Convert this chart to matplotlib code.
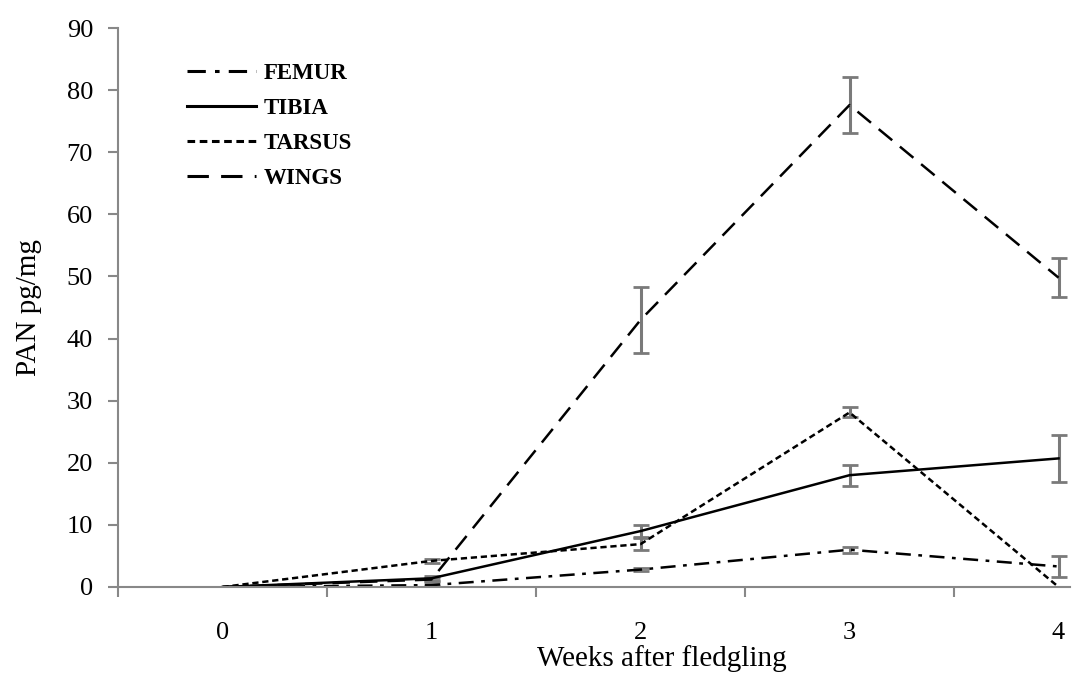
import numpy as np
import matplotlib.pyplot as plt
from matplotlib import transforms
from matplotlib.lines import Line2D
plt.rcParams.update({'font.family': 'Liberation Serif', 'font.size': 19})

# datos
weeks = [0, 1, 2, 3, 4]
femur = [0, 0.3, 2.8, 6.0, 3.3]
femur_err = [0, 0.2, 0.3, 0.5, 1.7]
tibia = [0, 1.4, 9.0, 18.0, 20.7]
tibia_err = [0, 0.4, 1.0, 1.7, 3.8]
tarsus = [0, 4.2, 6.9, 28.1, 0]
tarsus_err = [0, 0.3, 1.0, 0.8, 0]
wings = [0, 1.2, 43.0, 77.6, 49.8]
wings_err = [0, 0.3, 5.3, 4.5, 3.1]

series = [
    ('FEMUR', femur, femur_err, (0, (6, 3, 1.5, 3))),
    ('TIBIA', tibia, tibia_err, '-'),
    ('TARSUS', tarsus, tarsus_err, (0, (2.5, 1.5))),
    ('WINGS', wings, wings_err, (0, (7, 4))),
]

fig = plt.figure(figsize=(10.79, 6.85), dpi=100)
ax = fig.add_axes([0.1094, 0.1431, 0.8823, 0.816])

handles = []
for name, y, err, ls in series:
    eb = ax.errorbar(weeks, y, yerr=err, color='black', linestyle=ls, linewidth=1.8,
                     ecolor='#7a7a7a', elinewidth=2.2, capsize=5.5, capthick=2)
    for cap in eb[1]:
        cap.set_color('black')
    handles.append(Line2D([], [], color='black', linestyle=ls, linewidth=2.2, label=name))

ax.set_xlim(-0.5, 4.055)
ax.set_ylim(0, 90)
ax.set_yticks(np.arange(0, 91, 10))
ax.set_xticks(weeks)
ax.set_xticks(np.arange(-0.5, 4, 1), minor=True)
ax.tick_params(axis='x', which='major', length=0, pad=25)
ax.tick_params(axis='x', which='minor', length=7, width=1.5, color='#888888', direction='out')
ax.tick_params(axis='y', length=7, width=1.5, color='#888888', pad=11)

for s in ['top', 'right']:
    ax.spines[s].set_visible(False)
for s in ['left', 'bottom']:
    ax.spines[s].set_color('#888888')
    ax.spines[s].set_linewidth(1.5)

ax.set_ylabel('PAN pg/mg', fontsize=21, labelpad=18)
trans = transforms.blended_transform_factory(ax.transData, ax.transAxes)
ax.text(2.1, -0.128, 'Weeks after fledgling', transform=trans, ha='center', va='center', fontsize=21)

ax.legend(handles=handles, loc='upper left', bbox_to_anchor=(0.0725, 0.938), frameon=False,
          prop={'family': 'Liberation Serif', 'weight': 'bold', 'size': 16.5},
          handlelength=3.0, handletextpad=0.35, labelspacing=0.62,
          borderpad=0, borderaxespad=0)

plt.savefig('out.png', dpi=100)
